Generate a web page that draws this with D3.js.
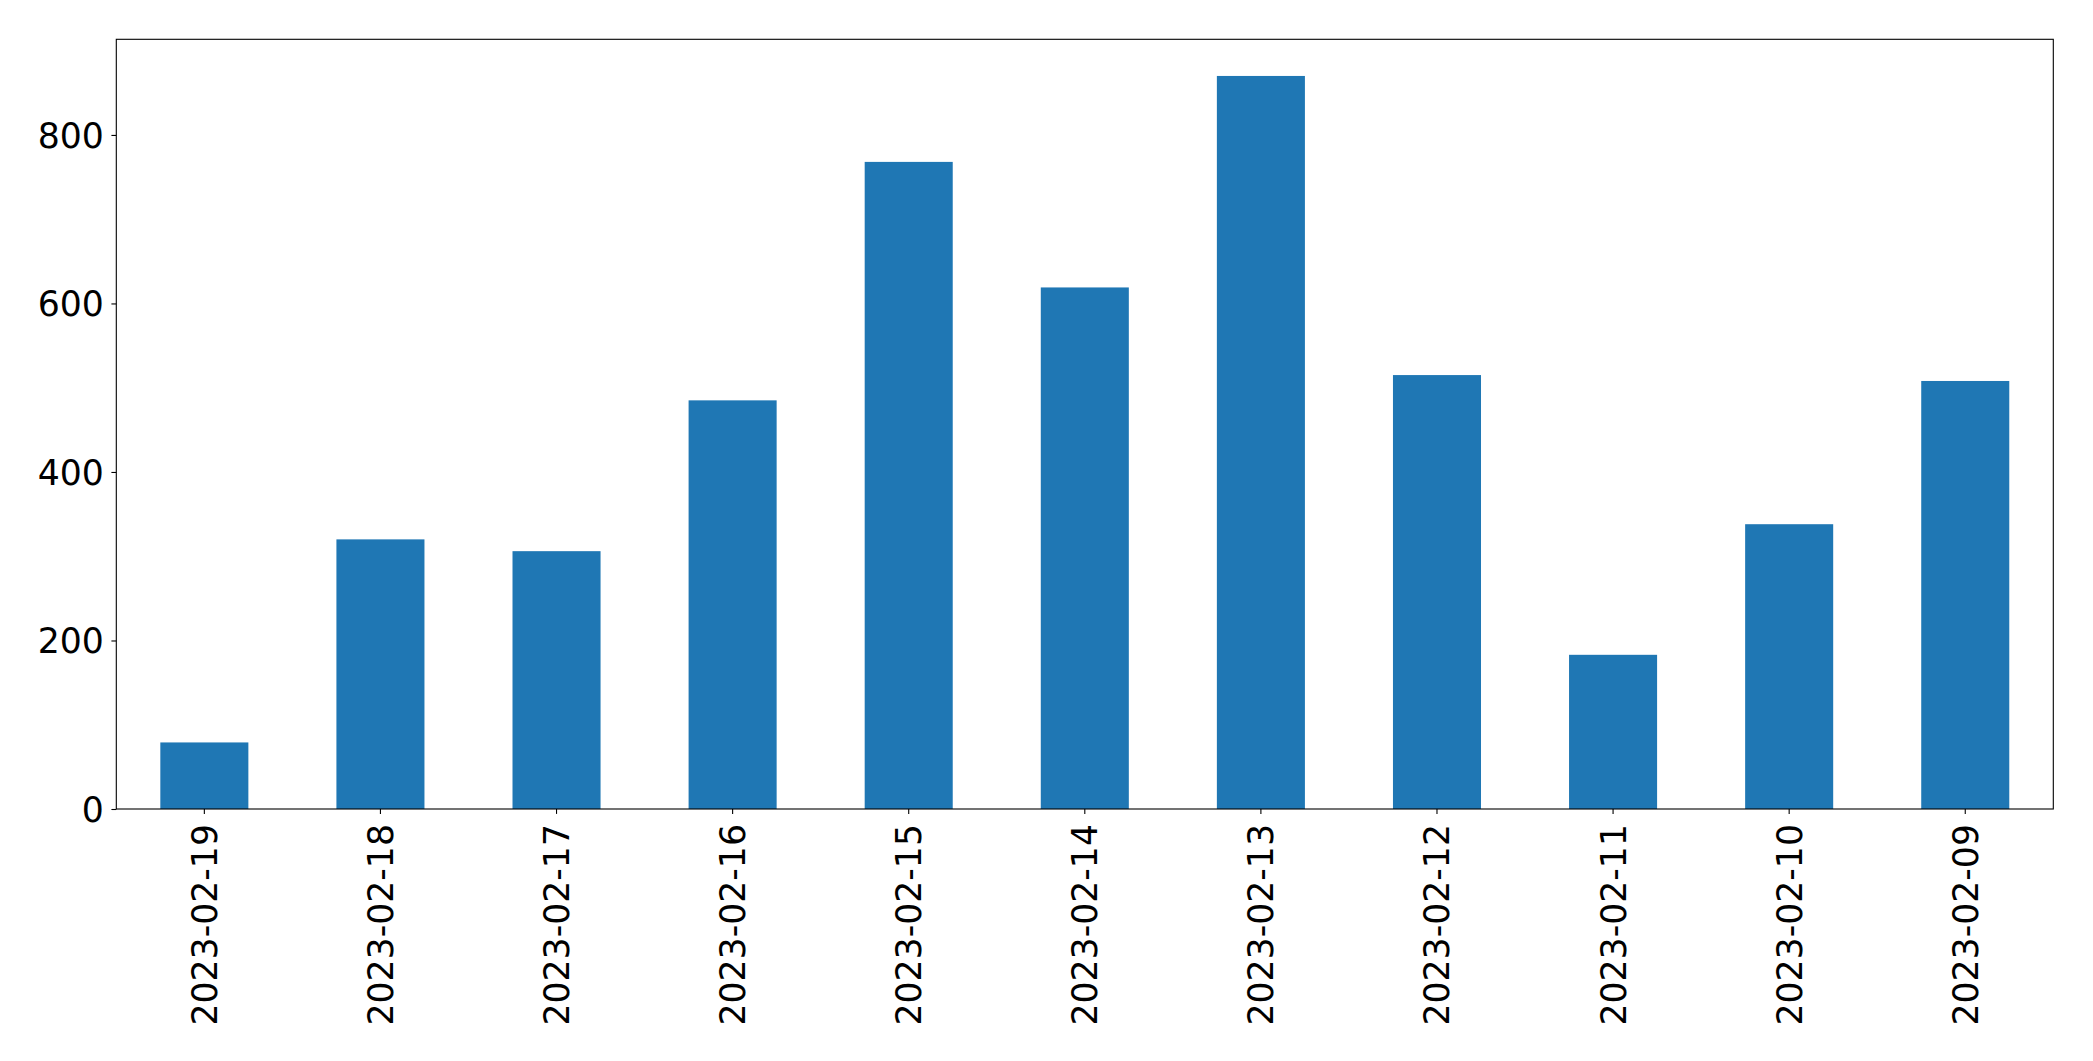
<!DOCTYPE html>
<html>
<head>
<meta charset="utf-8">
<script src="https://cdn.jsdelivr.net/npm/d3@7"></script>
<style>
  html, body { margin: 0; padding: 0; background: #fff; }
  svg { display: block; }
</style>
</head>
<body>
<svg id="chart" width="2093" height="1061"></svg>
<script>
const categories = ["2023-02-19","2023-02-18","2023-02-17","2023-02-16","2023-02-15","2023-02-14","2023-02-13","2023-02-12","2023-02-11","2023-02-10","2023-02-09"];
const values = [79, 320, 306, 485, 768, 619, 870, 515, 183, 338, 508];
const yTicks = [0, 200, 400, 600, 800];

const W = 2093, H = 1061;
const plotLeft = 116.3, plotRight = 2053.3, plotTop = 39.3, plotBottom = 809;
const font = "DejaVu Sans, sans-serif";
const fontSize = 34.7;
const barColor = "#1f77b4";

const svg = d3.select("#chart");
svg.append("rect").attr("width", W).attr("height", H).attr("fill", "#fff");

const x = d3.scaleBand().domain(categories).range([plotLeft, plotRight]).paddingInner(0.5).paddingOuter(0.25);
const yMax = d3.max(values) * 1.05;
const y = d3.scaleLinear().domain([0, yMax]).range([plotBottom, plotTop]);

svg.append("g").selectAll("rect").data(values).join("rect")
  .attr("x", (d, i) => x(categories[i]))
  .attr("width", x.bandwidth())
  .attr("y", d => y(d))
  .attr("height", d => y(0) - y(d))
  .attr("fill", barColor);

// frame
svg.append("rect").attr("x", plotLeft).attr("y", plotTop).attr("width", plotRight - plotLeft).attr("height", plotBottom - plotTop)
  .attr("fill", "none").attr("stroke", "#000").attr("stroke-width", 1.1);

// y axis
const yAxis = d3.axisLeft(y).tickValues(yTicks).tickSize(4.9).tickPadding(7.5).tickFormat(d3.format("d"));
const gy = svg.append("g").attr("transform", `translate(${plotLeft},0)`).call(yAxis);
gy.select(".domain").remove();
gy.selectAll(".tick line").attr("stroke", "#000").attr("stroke-width", 1.1);
gy.selectAll(".tick text").attr("fill", "#000").attr("font-family", font).attr("font-size", fontSize).attr("dy", "0.36em");

// x axis
const xAxis = d3.axisBottom(x).tickSize(4.9).tickPadding(0);
const gx = svg.append("g").attr("transform", `translate(0,${plotBottom})`).call(xAxis);
gx.select(".domain").remove();
gx.selectAll(".tick line").attr("stroke", "#000").attr("stroke-width", 1.1);
gx.selectAll(".tick text")
  .attr("fill", "#000").attr("font-family", font).attr("font-size", fontSize)
  .attr("text-anchor", "end")
  .attr("x", 0).attr("y", 0)
  .attr("dy", "0.36em")
  .attr("transform", "translate(0,15) rotate(-90)");
</script>
</body>
</html>
